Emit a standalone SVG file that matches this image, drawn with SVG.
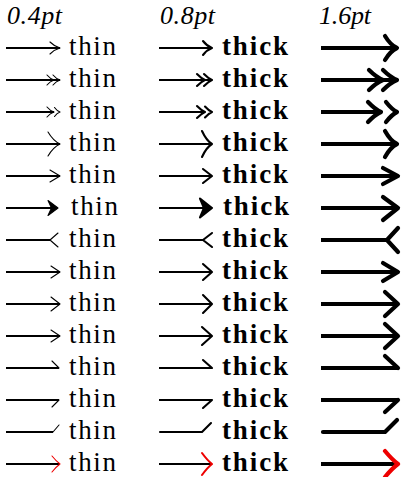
<svg xmlns="http://www.w3.org/2000/svg" width="402" height="477" viewBox="0 0 402 477">
<style>
.hd{font-family:"Liberation Serif",serif;font-style:italic;font-size:26px;fill:#000}
.tn{font-family:"Liberation Serif",serif;font-size:27px;fill:#000}
.tk{font-family:"Liberation Serif",serif;font-weight:bold;font-size:27px;fill:#000}
.c1,.c2,.c3{fill:none;stroke:#000;stroke-linecap:butt}
.c1{stroke-width:1.1}
.c2{stroke-width:2.1}
.c3{stroke-width:4.2}
.ln{shape-rendering:crispEdges}
.h{stroke-linecap:round;stroke-linejoin:round}
.f{fill:#000}
.red{stroke:#e00}
</style>
<rect width="402" height="477" fill="#fff"/>
<g id="headers">
<text class="hd" x="7" y="24" textLength="55">0.4pt</text>
<text class="hd" x="160" y="24" textLength="55">0.8pt</text>
<text class="hd" x="319" y="24" textLength="52">1.6pt</text>
</g>
<g id="labels">
<text class="tn" x="69" y="55" textLength="47">thin</text><text class="tk" x="222" y="55" textLength="66">thick</text>
<text class="tn" x="69" y="87" textLength="47">thin</text><text class="tk" x="222" y="87" textLength="66">thick</text>
<text class="tn" x="69" y="119" textLength="47">thin</text><text class="tk" x="222" y="119" textLength="66">thick</text>
<text class="tn" x="69" y="151" textLength="47">thin</text><text class="tk" x="222" y="151" textLength="66">thick</text>
<text class="tn" x="69" y="183" textLength="47">thin</text><text class="tk" x="222" y="183" textLength="66">thick</text>
<text class="tn" x="71" y="215" textLength="47">thin</text><text class="tk" x="223" y="215" textLength="66">thick</text>
<text class="tn" x="69" y="247" textLength="47">thin</text><text class="tk" x="222" y="247" textLength="66">thick</text>
<text class="tn" x="69" y="279" textLength="47">thin</text><text class="tk" x="222" y="279" textLength="66">thick</text>
<text class="tn" x="69" y="311" textLength="47">thin</text><text class="tk" x="222" y="311" textLength="66">thick</text>
<text class="tn" x="69" y="343" textLength="47">thin</text><text class="tk" x="222" y="343" textLength="66">thick</text>
<text class="tn" x="69" y="375" textLength="47">thin</text><text class="tk" x="222" y="375" textLength="66">thick</text>
<text class="tn" x="69" y="407" textLength="47">thin</text><text class="tk" x="222" y="407" textLength="66">thick</text>
<text class="tn" x="69" y="439" textLength="47">thin</text><text class="tk" x="222" y="439" textLength="66">thick</text>
<text class="tn" x="69" y="471" textLength="47">thin</text><text class="tk" x="222" y="471" textLength="66">thick</text>
</g>
<g id="connectors">
<g id="row1">
<path class="c1 ln" d="M6,48H60"/><path class="c1 h" d="M50,42Q54.5,46.5 60,48Q54.5,49.5 50,54"/>
<path class="c2" d="M159,48H212"/><path class="c2 h" d="M203,41Q207,46.2 212,48Q207,49.8 203,55"/>
<path class="c3" d="M321,48H397"/><path class="c3 h" d="M385,36Q390.4,45 397,48Q390.4,51 385,60"/>
</g>
<g id="row2">
<path class="c1 ln" d="M6,80H60"/><path class="c1 h" d="M53,75Q56.2,78.8 60,80Q56.2,81.2 53,85M47,75Q50.2,78.8 54,80Q50.2,81.2 47,85"/>
<path class="c2" d="M159,80H212"/><path class="c2 h" d="M204,74Q208.4,78.5 212,80Q208.4,81.5 204,86M197,74Q201.4,78.5 205,80Q201.4,81.5 197,86"/>
<path class="c3" d="M321,80H397"/><path class="c3 h" d="M383,70Q390.7,77.5 397,80Q390.7,82.5 383,90M369,70Q376.7,77.5 383,80Q376.7,82.5 369,90"/>
</g>
<g id="row3">
<path class="c1 ln" d="M6,112H54"/><path class="c1 h" d="M47,107Q50.2,110.8 54,112Q50.2,113.2 47,117M54.5,107.5Q57,110.9 60,112Q57,113.1 54.5,116.5"/>
<path class="c2" d="M159,112H205"/><path class="c2 h" d="M197,106Q201.4,110.5 205,112Q201.4,113.5 197,118M205,106.5Q208.7,110.6 212,112Q208.7,113.4 205,117.5"/>
<path class="c3" d="M321,112H381"/><path class="c3 h" d="M368,102Q375.2,109.5 381,112Q375.2,114.5 368,122M386,102Q391.9,109.5 397,112Q391.9,114.5 386,122"/>
</g>
<g id="row4">
<path class="c1 ln" d="M6,144H60"/><path class="c1 h" d="M48,132Q53.4,141 60,144Q53.4,147 48,156"/>
<path class="c2" d="M159,144H212"/><path class="c2 h" d="M202,131Q206.5,140.75 212,144Q206.5,147.25 202,157"/>
<path class="c3" d="M321,144H397"/><path class="c3 h" d="M385,131Q390.4,140.75 397,144Q390.4,147.25 385,157"/>
</g>
<g id="row5">
<path class="c1 ln" d="M6,176H60"/><path class="c1 h" d="M50,170L60,176L50,182"/>
<path class="c2" d="M159,176H212"/><path class="c2 h" d="M203,169L212,176L203,183"/>
<path class="c3" d="M321,176H396"/><path class="c3 h" d="M383,168L398,176L383,184"/>
</g>
<g id="row6">
<path class="c1 ln" d="M6,208H52"/><path class="c1 f h" d="M58,208L48,200.5L51.5,208L48,215.5Z"/>
<path class="c2" d="M159,208H205"/><path class="c2 f h" d="M212,208L200,198.5L204,208L200,217.5Z"/>
<path class="c3" d="M321,208H397"/><path class="c3 h" d="M383,197L398,208L383,220"/>
</g>
<g id="row7">
<path class="c1 ln" d="M6,240H50"/><path class="c1 h" d="M58,233L50,240L58,247"/>
<path class="c2" d="M159,240H203"/><path class="c2 h" d="M212,233L203,240L212,247"/>
<path class="c3" d="M321,240H387"/><path class="c3 h" d="M398,228L387,240L398,252"/>
</g>
<g id="row8">
<path class="c1 ln" d="M6,272H60"/><path class="c1 h" d="M51,266L60,272L51,278"/>
<path class="c2" d="M159,272H212"/><path class="c2 h" d="M203,264L212,272L203,280"/>
<path class="c3" d="M321,272H396"/><path class="c3 h" d="M383,263L398,272L383,281"/>
</g>
<g id="row9">
<path class="c1 ln" d="M6,304H60"/><path class="c1 h" d="M51,297L60,304L51,311"/>
<path class="c2" d="M159,304H212"/><path class="c2 h" d="M203,295L212,304L203,313"/>
<path class="c3" d="M321,304H396"/><path class="c3 h" d="M385,292L398,304L385,316"/>
</g>
<g id="row10">
<path class="c1 ln" d="M6,336H60"/><path class="c1 h" d="M51,330L60,336L51,342"/>
<path class="c2" d="M159,336H212"/><path class="c2 h" d="M202,327L212,336L202,345"/>
<path class="c3" d="M321,336H396"/><path class="c3 h" d="M385,324L398,336L385,348"/>
</g>
<g id="row11">
<path class="c1 ln" d="M6,368H59"/><path class="c1 h" d="M52,361L59,368"/>
<path class="c2" d="M159,368H212"/><path class="c2 h" d="M203,360L212,368"/>
<path class="c3" d="M321,368H398"/><path class="c3 h" d="M385,356L398,368"/>
</g>
<g id="row12">
<path class="c1 ln" d="M6,400H59"/><path class="c1 h" d="M59,400L52,407"/>
<path class="c2" d="M159,400H212"/><path class="c2 h" d="M212,400L203,408"/>
<path class="c3" d="M321,400H398"/><path class="c3 h" d="M398,400L385,412"/>
</g>
<g id="row13">
<path class="c1 ln" d="M6,432H53"/><path class="c1 h" d="M53,432L59,425"/>
<path class="c2 h" d="M160,432H202L211,423"/>
<path class="c3 h" d="M323,432H385L397,420"/>
</g>
<g id="row14">
<path class="c1 ln" d="M6,464H59"/><path class="c1 h red" d="M52,456Q56.5,461.5 60,464Q56.5,466.5 52,472"/>
<path class="c2" d="M159,464H211"/><path class="c2 h red" d="M202,453Q207.5,460.5 212,464Q207.5,467.5 202,475"/>
<path class="c3" d="M321,464H396"/><path class="c3 h red" d="M385,451Q392,459.5 398,464Q392,468.5 385,477"/>
</g>
</g>
</svg>
